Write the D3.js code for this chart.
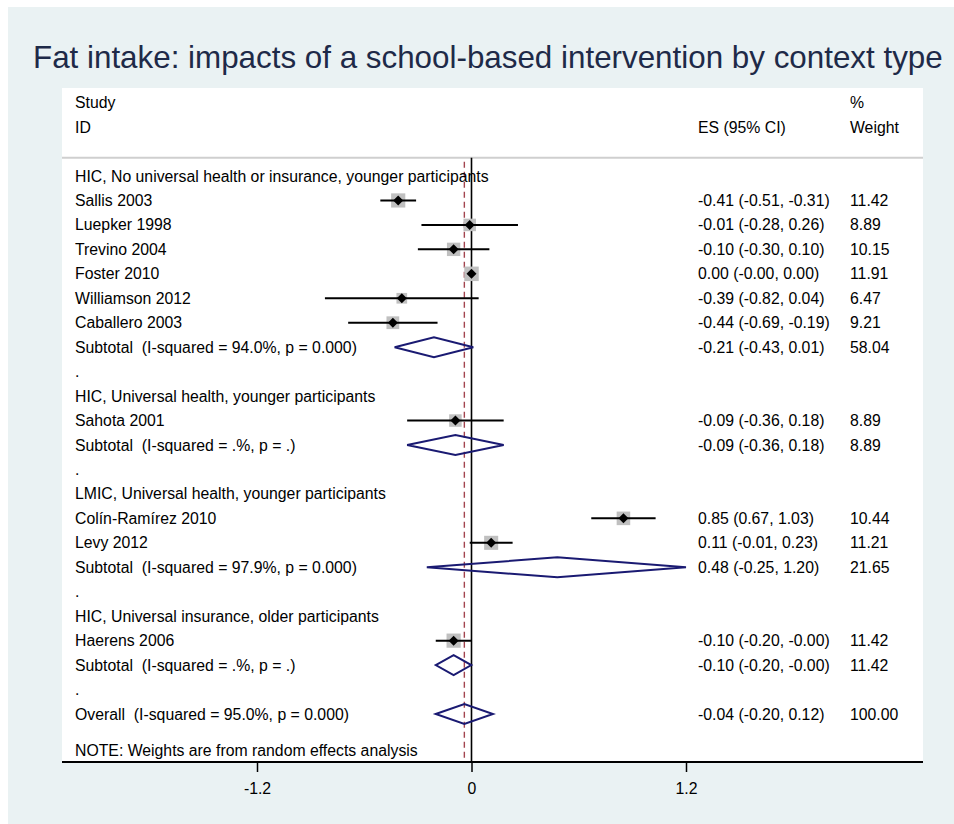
<!DOCTYPE html>
<html>
<head>
<meta charset="utf-8">
<script src="https://cdn.jsdelivr.net/npm/d3@7"></script>
<style>
  html, body { margin: 0; padding: 0; background: #ffffff; }
  svg { display: block; }
  text { font-family: "Liberation Sans", Arial, sans-serif; white-space: pre; }
</style>
</head>
<body>
<svg id="chart" width="954" height="824"></svg>
<script>
// ---- data ----
const title = "Fat intake: impacts of a school-based intervention by context type";

const groupLabels = [
  "HIC, No universal health or insurance, younger participants",
  "HIC, Universal health, younger participants",
  "LMIC, Universal health, younger participants",
  "HIC, Universal insurance, older participants"
];

const studyNames  = ["Sallis 2003", "Luepker 1998", "Trevino 2004", "Foster 2010", "Williamson 2012", "Caballero 2003",
                     "Sahota 2001",
                     "Colín-Ramírez 2010", "Levy 2012",
                     "Haerens 2006"];
const studyGroup  = [0, 0, 0, 0, 0, 0, 1, 2, 2, 3];
const studyES     = [-0.41, -0.01, -0.10, 0.00, -0.39, -0.44, -0.09, 0.85, 0.11, -0.10];
const studyLo     = [-0.51, -0.28, -0.30, -0.001, -0.82, -0.69, -0.36, 0.67, -0.01, -0.20];
const studyHi     = [-0.31, 0.26, 0.10, 0.001, 0.04, -0.19, 0.18, 1.03, 0.23, -0.001];
const studyWeight = [11.42, 8.89, 10.15, 11.91, 6.47, 9.21, 8.89, 10.44, 11.21, 11.42];

const subtotalLabels = [
  "Subtotal  (I-squared = 94.0%, p = 0.000)",
  "Subtotal  (I-squared = .%, p = .)",
  "Subtotal  (I-squared = 97.9%, p = 0.000)",
  "Subtotal  (I-squared = .%, p = .)"
];
const subtotalES     = [-0.21, -0.09, 0.48, -0.10];
const subtotalLo     = [-0.43, -0.36, -0.25, -0.20];
const subtotalHi     = [0.01, 0.18, 1.20, -0.001];
const subtotalWeight = [58.04, 8.89, 21.65, 11.42];

const overallLabel  = "Overall  (I-squared = 95.0%, p = 0.000)";
const overallES     = -0.04;
const overallLo     = -0.20;
const overallHi     = 0.12;
const overallWeight = 100.00;

const noteText = "NOTE: Weights are from random effects analysis";
const xTicks = [-1.2, 0, 1.2];
const xTickLabels = ["-1.2", "0", "1.2"];

// ---- row layout: group header, studies, subtotal, spacer "." ----
const rows = [];
groupLabels.forEach((g, gi) => {
  rows.push({ type: "group", label: g });
  studyNames.forEach((s, si) => {
    if (studyGroup[si] === gi) {
      rows.push({ type: "study", label: s, es: studyES[si], lo: studyLo[si], hi: studyHi[si], w: studyWeight[si] });
    }
  });
  rows.push({ type: "sub", label: subtotalLabels[gi], es: subtotalES[gi], lo: subtotalLo[gi], hi: subtotalHi[gi], w: subtotalWeight[gi] });
  rows.push({ type: "spacer", label: "." });
});
rows.push({ type: "sub", label: overallLabel, es: overallES, lo: overallLo, hi: overallHi, w: overallWeight });
rows.forEach((r, i) => r.i = i);

// ---- geometry ----
const svg = d3.select("#chart");
const bg = { x: 8, y: 7, w: 946, h: 817 };
const panel = { x0: 62, x1: 923, y0: 88, y1: 762 };

const x = d3.scaleLinear().domain([-1.2, 1.2]).range([257, 686]);
const y = d3.scaleLinear().domain([0, rows.length - 1]).range([176, 714]);

const colLabel = 75, colES = 698, colW = 850;
const fs = 15.8;
const fmt = v => v.toFixed(2);

// background and plot panel
svg.append("rect").attr("x", bg.x).attr("y", bg.y).attr("width", bg.w).attr("height", bg.h).attr("fill", "#eaf2f3");
svg.append("rect").attr("x", panel.x0).attr("y", panel.y0)
  .attr("width", panel.x1 - panel.x0).attr("height", panel.y1 - panel.y0).attr("fill", "#ffffff");

// title, narrowed horizontally to fit the graph width
const titleX = 33, titleY = 68, titleWidth = 910;
const t = svg.append("text").attr("x", 0).attr("y", 0)
  .attr("font-size", 32).attr("fill", "#1e2a48").text(title);
const tw = t.node().getComputedTextLength();
const sx = Math.min(1, titleWidth / tw);
t.attr("transform", `translate(${titleX},${titleY}) scale(${sx},1)`);

// column headers
const hdr = svg.append("g").attr("font-size", fs).attr("fill", "#000");
hdr.append("text").attr("x", colLabel).attr("y", y(-3)).attr("dy", "0.35em").text("Study");
hdr.append("text").attr("x", colLabel).attr("y", y(-2)).attr("dy", "0.35em").text("ID");
hdr.append("text").attr("x", colES).attr("y", y(-2)).attr("dy", "0.35em").text("ES (95% CI)");
hdr.append("text").attr("x", colW).attr("y", y(-3)).attr("dy", "0.35em").text("%");
hdr.append("text").attr("x", colW).attr("y", y(-2)).attr("dy", "0.35em").text("Weight");

// header separator
const sepY = y(-0.75);
svg.append("line").attr("x1", panel.x0).attr("x2", panel.x1).attr("y1", sepY).attr("y2", sepY)
  .attr("stroke", "#cfcfcf").attr("stroke-width", 2);

// reference lines: null effect and overall estimate
svg.append("line").attr("x1", x(0)).attr("x2", x(0)).attr("y1", sepY).attr("y2", panel.y1)
  .attr("stroke", "#000").attr("stroke-width", 1.6);
svg.append("line").attr("x1", x(overallES)).attr("x2", x(overallES)).attr("y1", sepY + 4).attr("y2", panel.y1)
  .attr("stroke", "#a3454f").attr("stroke-width", 1.4).attr("stroke-dasharray", "6,4");

// row labels
const lab = svg.append("g").attr("font-size", fs).attr("fill", "#000");
lab.selectAll("text").data(rows).join("text")
  .attr("x", colLabel).attr("y", d => y(d.i)).attr("dy", "0.35em").text(d => d.label);

// effect size and weight columns
const valueRows = rows.filter(r => r.type === "study" || r.type === "sub");
lab.selectAll(null).data(valueRows).join("text")
  .attr("x", colES).attr("y", d => y(d.i)).attr("dy", "0.35em")
  .text(d => `${fmt(d.es)} (${fmt(d.lo)}, ${fmt(d.hi)})`);
lab.selectAll(null).data(valueRows).join("text")
  .attr("x", colW).attr("y", d => y(d.i)).attr("dy", "0.35em")
  .text(d => fmt(d.w));

// study markers: weight boxes, confidence intervals, point estimates
const studies = rows.filter(r => r.type === "study");
const side = w => 4.2 * Math.sqrt(w);
svg.append("g").selectAll("rect").data(studies).join("rect")
  .attr("x", d => x(d.es) - side(d.w) / 2).attr("y", d => y(d.i) - side(d.w) / 2)
  .attr("width", d => side(d.w)).attr("height", d => side(d.w)).attr("fill", "#c0c0c0");
svg.append("g").selectAll("line").data(studies).join("line")
  .attr("x1", d => x(d.lo)).attr("x2", d => x(d.hi)).attr("y1", d => y(d.i)).attr("y2", d => y(d.i))
  .attr("stroke", "#000").attr("stroke-width", 2);
svg.append("g").selectAll("path").data(studies).join("path")
  .attr("d", d => { const cx = x(d.es), cy = y(d.i), r = 5;
    return `M${cx - r},${cy}L${cx},${cy - r}L${cx + r},${cy}L${cx},${cy + r}Z`; })
  .attr("fill", "#000");

// pooled estimates as diamonds
const pooled = rows.filter(r => r.type === "sub");
svg.append("g").selectAll("path").data(pooled).join("path")
  .attr("d", d => { const cy = y(d.i), h = 10;
    return `M${x(d.lo)},${cy}L${x(d.es)},${cy - h}L${x(d.hi)},${cy}L${x(d.es)},${cy + h}Z`; })
  .attr("fill", "none").attr("stroke", "#1a1a72").attr("stroke-width", 2).attr("stroke-linejoin", "miter");

// note
svg.append("text").attr("x", colLabel).attr("y", 750).attr("dy", "0.35em")
  .attr("font-size", fs).attr("fill", "#000").text(noteText);

// x axis
const axisG = svg.append("g").attr("transform", `translate(0,${panel.y1})`)
  .call(d3.axisBottom(x).tickValues(xTicks).tickFormat((d, i) => xTickLabels[i]).tickSize(10).tickSizeOuter(0));
axisG.select(".domain").remove();
axisG.selectAll(".tick line").attr("stroke", "#000").attr("stroke-width", 1.5);
axisG.selectAll(".tick text").attr("font-size", fs).attr("fill", "#000")
  .attr("font-family", "'Liberation Sans', Arial, sans-serif").attr("y", 21);
svg.append("line").attr("x1", panel.x0).attr("x2", panel.x1).attr("y1", panel.y1).attr("y2", panel.y1)
  .attr("stroke", "#000").attr("stroke-width", 2);
</script>
</body>
</html>
